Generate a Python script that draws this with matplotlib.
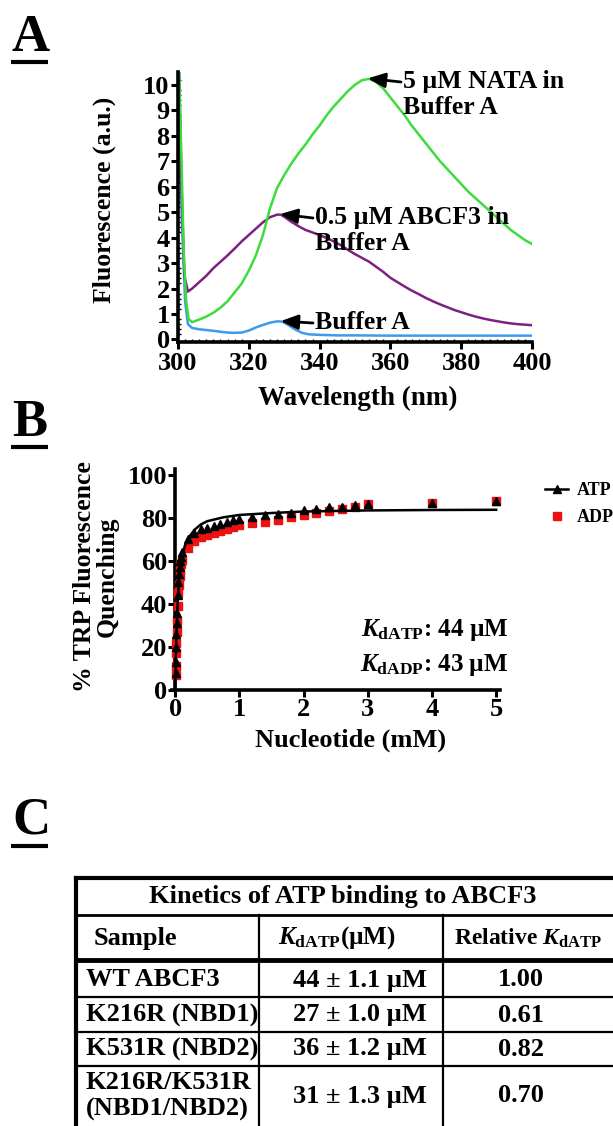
import matplotlib
matplotlib.use("Agg")
import matplotlib.pyplot as plt
from matplotlib.lines import Line2D

plt.rcParams['font.family'] = 'Liberation Serif'
plt.rcParams['font.weight'] = 'bold'
plt.rcParams['mathtext.fontset'] = 'custom'
plt.rcParams['mathtext.rm'] = 'Liberation Serif:bold'
plt.rcParams['mathtext.it'] = 'Liberation Serif:italic:bold'
plt.rcParams['mathtext.bf'] = 'Liberation Serif:bold'

# ---- panel A: emission spectra ----
nata_wl = [300.3, 301.0, 301.6, 302.3, 303, 304, 306, 308, 310, 312, 314, 316, 318, 320, 322, 324,
           326, 328, 330, 332, 334, 336, 338, 340, 342, 344, 346, 348, 350, 352, 354, 356, 358, 360,
           362, 364, 366, 368, 370, 372, 374, 376, 378, 380, 382, 384, 386, 388, 390, 392, 394, 396,
           398, 400]
nata_f = [10.5, 7.0, 3.5, 1.5, 0.8, 0.68, 0.78, 0.9, 1.05, 1.25, 1.5, 1.85, 2.2, 2.7, 3.3, 4.1,
          5.15, 5.95, 6.45, 6.9, 7.3, 7.65, 8.05, 8.4, 8.8, 9.15, 9.45, 9.75, 10.0, 10.18, 10.23, 10.1,
          9.85, 9.5, 9.15, 8.8, 8.4, 8.05, 7.7, 7.35, 7.0, 6.7, 6.4, 6.1, 5.8, 5.55, 5.3, 5.05, 4.8,
          4.55, 4.3, 4.1, 3.9, 3.75]

abcf3_wl = [300.3, 301.0, 301.8, 302.8, 304, 306, 308, 310, 312, 314, 316, 318, 320, 322, 324, 326,
            328, 329, 330, 332, 334, 336, 338, 340, 342, 344, 346, 348, 350, 352, 354, 356, 358, 360,
            362, 364, 366, 368, 370, 372, 374, 376, 378, 380, 382, 384, 386, 388, 390, 392, 394, 396,
            398, 400]
abcf3_f = [10.5, 6.0, 2.5, 1.88, 2.0, 2.25, 2.5, 2.8, 3.05, 3.3, 3.57, 3.85, 4.1, 4.35, 4.6, 4.8,
           4.9, 4.9, 4.82, 4.62, 4.45, 4.3, 4.2, 4.1, 3.98, 3.85, 3.7, 3.52, 3.35, 3.2, 3.05, 2.85,
           2.65, 2.42, 2.25, 2.08, 1.92, 1.78, 1.63, 1.5, 1.38, 1.27, 1.16, 1.07, 0.98, 0.9, 0.83,
           0.77, 0.72, 0.67, 0.63, 0.6, 0.58, 0.56]

buf_wl = [300.3, 301, 302, 302.8, 304, 306, 308, 310, 312, 314, 316, 318, 320, 322, 324, 326, 328,
          329.5, 331, 333, 335, 337, 340, 345, 350, 360, 370, 380, 390, 400]
buf_f = [10.5, 5.0, 1.5, 0.6, 0.45, 0.4, 0.37, 0.34, 0.3, 0.27, 0.26, 0.27, 0.35, 0.47, 0.57, 0.66,
         0.71, 0.7, 0.58, 0.4, 0.26, 0.2, 0.18, 0.16, 0.16, 0.15, 0.15, 0.15, 0.15, 0.15]

# ---- panel B: quenching vs nucleotide ----
nuc_mM = [0.005, 0.01, 0.015, 0.02, 0.025, 0.03, 0.04, 0.05, 0.06, 0.07, 0.08, 0.09, 0.1, 0.2, 0.3,
          0.4, 0.5, 0.6, 0.7, 0.8, 0.9, 1.0, 1.2, 1.4, 1.6, 1.8, 2.0, 2.2, 2.4, 2.6, 2.8, 3.0, 4.0, 5.0]
atp_q = [8, 13, 20, 26, 31, 36, 44, 50, 54, 57, 60, 62, 64, 70, 73, 75, 75.5, 76.2, 77.2, 78.3, 79,
         79.6, 80.6, 81.4, 81.8, 82.5, 83.5, 84, 85, 85.3, 86, 86.5, 87, 87.8]
adp_q = [7, 11, 17, 22, 27, 32, 39, 45, 49, 53, 56, 58.5, 60.5, 66, 69.5, 71, 72, 73, 74, 75, 75.8,
         76.5, 77.8, 78.3, 79, 80.3, 81.4, 82.5, 83.4, 84, 85, 86.5, 87, 87.8]
fit_x = [0, 0.01, 0.02, 0.04, 0.06, 0.1, 0.15, 0.2, 0.3, 0.4, 0.5, 0.75, 1.0, 1.5, 2.0, 3.0, 4.0, 5.0]
fit_y = [0, 16, 27, 42, 52, 61, 67, 70.5, 74.5, 77, 78.5, 80.3, 81.4, 82.3, 83, 83.5, 83.7, 83.8]

# ---- panel C: table ----
tbl_title = 'Kinetics of ATP binding to ABCF3'
tbl_head = ['Sample', r'$K_{\mathrm{dATP}}$(µM)', r'Relative $K_{\mathrm{dATP}}$']
samples = ['WT ABCF3', 'K216R (NBD1)', 'K531R (NBD2)', 'K216R/K531R\n(NBD1/NBD2)']
kd_vals = ['44 ± 1.1 µM', '27 ± 1.0 µM', '36 ± 1.2 µM', '31 ± 1.3 µM']
rel_kd = ['1.00', '0.61', '0.82', '0.70']

W, H = 613, 1126
fig = plt.figure(figsize=(W / 100, H / 100), dpi=100)

def fbox(l, t, r, b):
    return [l / W, 1 - b / H, (r - l) / W, (b - t) / H]

# ---------- A ----------
axA = fig.add_axes(fbox(178, 72, 532, 342))
axA.patch.set_visible(False)
axA.plot(buf_wl, buf_f, color='#3d9be9', lw=1.8)
axA.plot(abcf3_wl, abcf3_f, color='#7d2181', lw=1.8)
axA.plot(nata_wl, nata_f, color='#3ddc3d', lw=1.8)
axA.set_xlim(300, 400)
axA.set_ylim(-0.1, 10.5)
axA.set_xticks(range(300, 401, 20))
axA.set_yticks(range(0, 11))
axA.set_xticks(range(300, 401, 2), minor=True)
axA.set_yticks([v / 5 for v in range(0, 52)], minor=True)
axA.tick_params(which='major', labelsize=19, width=2.2, length=5, pad=1)
axA.tick_params(axis='x', which='major', pad=2.5)
axA.tick_params(which='minor', direction='in', width=1, length=2.5)
for s in ['top', 'right']:
    axA.spines[s].set_visible(False)
for s in ['left', 'bottom']:
    axA.spines[s].set_linewidth(2.6)

# ---------- B ----------
axB = fig.add_axes(fbox(172, 468.5, 500, 690))
axB.patch.set_visible(False)
axB.plot(nuc_mM, adp_q, 's', color='#ee1111', ms=6, clip_on=False, zorder=3)
axB.plot(fit_x, fit_y, '-', color='black', lw=1.8, zorder=4)
axB.plot(nuc_mM, atp_q, '^', color='black', ms=6, clip_on=False, zorder=5)
axB.set_xlim(-0.05, 5.06)
axB.set_ylim(0, 103)
axB.set_xticks(range(0, 6))
axB.set_yticks(range(0, 101, 20))
axB.spines['left'].set_position(('data', 0))
for s in ['top', 'right']:
    axB.spines[s].set_visible(False)
for s in ['left', 'bottom']:
    axB.spines[s].set_linewidth(2.6)
axB.tick_params(labelsize=19, width=2.2, length=5, pad=1)

# overlay in pixel coords for letters, labels, notes and table (on top)
ov = fig.add_axes([0, 0, 1, 1])
ov.set_zorder(10)
ov.patch.set_visible(False)
ov.set_xlim(0, W)
ov.set_ylim(H, 0)
ov.axis('off')

for letter, base, uline in [('A', 51, 62), ('B', 436, 447), ('C', 834, 846)]:
    ov.text(12, base, letter, fontsize=38, ha='left', va='baseline')
    ov.plot([11, 48], [uline, uline], color='black', lw=3, solid_capstyle='butt')

ov.text(104, 200, 'Fluorescence (a.u.)', rotation=90, fontsize=18.5, ha='center', va='center')
ov.text(358, 398, 'Wavelength (nm)', fontsize=19.5, ha='center', va='center')

arrow = dict(arrowstyle='-|>,head_length=0.75,head_width=0.32', color='black', lw=2,
             shrinkA=0, shrinkB=0, mutation_scale=14)
for txt, tx, ty, px, py in [('5 µM NATA in\nBuffer A', 401, 82, 353.6, 10.25),
                            ('0.5 µM ABCF3 in\nBuffer A', 313, 218, 328.8, 4.92),
                            ('Buffer A', 313, 323, 329, 0.72)]:
    ov.text(tx + 2, ty - 12, txt, fontsize=18.5, ha='left', va='top', linespacing=1.15)
    ov.annotate('', xy=(px, py), xycoords=axA.transData, xytext=(tx, ty), textcoords='data',
                arrowprops=arrow)

ov.text(96, 577, '% TRP Fluorescence\nQuenching', rotation=90, fontsize=18.5,
        ha='center', va='center', linespacing=0.95, multialignment='center')
ov.text(351, 740, 'Nucleotide (mM)', fontsize=19, ha='center', va='center')
ov.text(508, 630, r'$K_{\mathrm{dATP}}$: 44 µM', fontsize=18, ha='right', va='center')
ov.text(508, 665, r'$K_{\mathrm{dADP}}$: 43 µM', fontsize=18, ha='right', va='center')

h_atp = Line2D([], [], color='black', marker='^', lw=1.8, ms=6)
h_adp = Line2D([], [], color='#ee1111', marker='s', lw=0, ms=6)
fig.legend([h_atp, h_adp], ['ATP', 'ADP'], loc='upper left', frameon=False, fontsize=13,
           bbox_to_anchor=(545 / W, 1 - 482 / H), borderpad=0, borderaxespad=0,
           handlelength=1.3, handletextpad=0.45, labelspacing=0.55)

# ---------- C ----------
tl, tr = 76, 620
col_x = [259, 443]
row_edges = [960, 997, 1032, 1066, 1140]
ov.plot([tl, tl], [878, 1140], color='black', lw=3)
ov.plot([tl, tr], [878, 878], color='black', lw=3)
ov.plot([tl, tr], [915, 915], color='black', lw=2)
ov.plot([tl, tr], [960, 960], color='black', lw=3.5)
for y in row_edges[1:-1]:
    ov.plot([tl, tr], [y, y], color='black', lw=1.6)
for x in col_x:
    ov.plot([x, x], [915, 1140], color='black', lw=1.6)

ov.text(343, 897, tbl_title, fontsize=19, ha='center', va='center')
ov.text(94, 938, tbl_head[0], fontsize=19, ha='left', va='center')
ov.text(278, 938, tbl_head[1], fontsize=18, ha='left', va='center')
ov.text(454, 938, tbl_head[2], fontsize=17, ha='left', va='center')
row_cy = [980, 1015, 1049, 1096]
for i in range(len(samples)):
    ov.text(86, row_cy[i], samples[i], fontsize=19, ha='left', va='center', linespacing=1.2)
    ov.text(360, row_cy[i], kd_vals[i], fontsize=19, ha='center', va='center')
    ov.text(521, row_cy[i], rel_kd[i], fontsize=19, ha='center', va='center')

fig.savefig('out.png', dpi=100)
